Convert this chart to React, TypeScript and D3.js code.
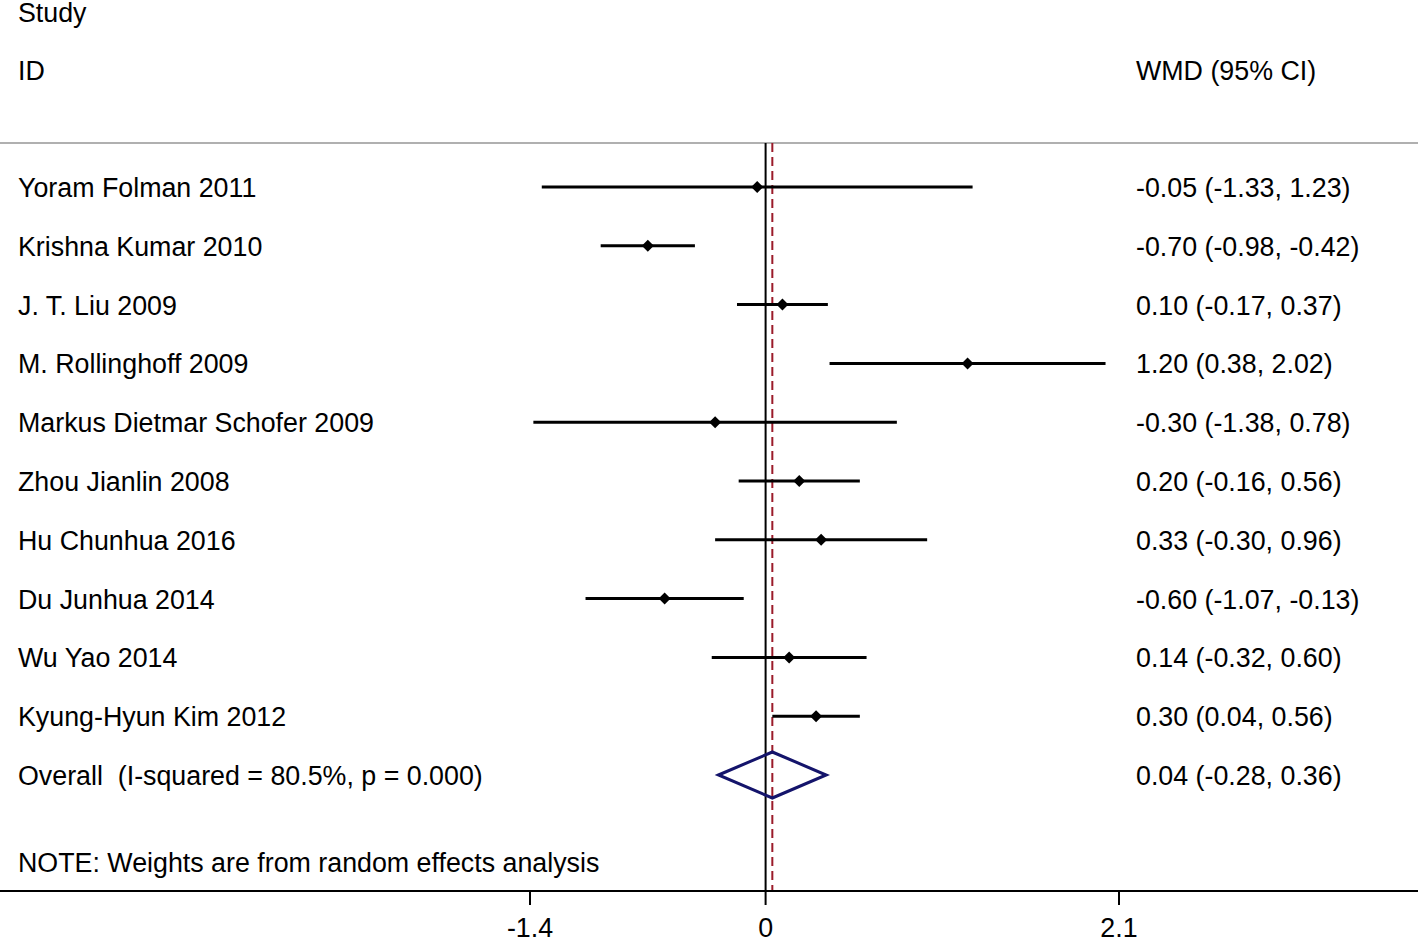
import React, { useEffect, useRef } from 'react';
import * as d3 from 'd3';

// Study data
const studies = [
  'Yoram Folman 2011',
  'Krishna Kumar 2010',
  'J. T. Liu 2009',
  'M. Rollinghoff 2009',
  'Markus Dietmar Schofer 2009',
  'Zhou Jianlin 2008',
  'Hu Chunhua 2016',
  'Du Junhua 2014',
  'Wu Yao 2014',
  'Kyung-Hyun Kim 2012',
];
const estimates = [-0.05, -0.7, 0.1, 1.2, -0.3, 0.2, 0.33, -0.6, 0.14, 0.3];
const lower = [-1.33, -0.98, -0.17, 0.38, -1.38, -0.16, -0.3, -1.07, -0.32, 0.04];
const upper = [1.23, -0.42, 0.37, 2.02, 0.78, 0.56, 0.96, -0.13, 0.6, 0.56];

const overallLabel = 'Overall  (I-squared = 80.5%, p = 0.000)';
const overall = { est: 0.04, lo: -0.28, hi: 0.36 };
const tickValues = [-1.4, 0, 2.1];

const fmt = (v: number) => v.toFixed(2);

const App = () => {
  const svgRef = useRef<SVGSVGElement>(null);

  useEffect(() => {
    const width = 1418;
    const height = 940;
    const font = 'Arial, "Liberation Sans", sans-serif';
    const fontSize = 26.8;

    const svg = d3.select(svgRef.current)
      .attr('width', width)
      .attr('height', height);
    svg.selectAll('*').remove();

    // x scale: -1.4 at 530, 2.1 at 1119
    const x = d3.scaleLinear().domain([-1.4, 2.1]).range([530, 1119]);

    const rows = [...studies, overallLabel];
    const y = d3.scalePoint<string>().domain(rows).range([187, 775]);

    const topY = 143;
    const axisY = 891;

    const txt = (t: string, xx: number, yy: number) =>
      svg.append('text')
        .attr('x', xx).attr('y', yy)
        .attr('font-family', font)
        .attr('font-size', fontSize)
        .attr('fill', '#000')
        .style('white-space', 'pre')
        .text(t);

    // header
    txt('Study', 18, 22);
    txt('ID', 18, 80);
    txt('WMD (95% CI)', 1136, 80);

    svg.append('line')
      .attr('x1', 0).attr('x2', width)
      .attr('y1', topY).attr('y2', topY)
      .attr('stroke', '#b0b0b0').attr('stroke-width', 2);

    // null line
    svg.append('line')
      .attr('x1', x(0)).attr('x2', x(0))
      .attr('y1', topY).attr('y2', axisY)
      .attr('stroke', '#000').attr('stroke-width', 2);

    // overall dashed line
    svg.append('line')
      .attr('x1', x(overall.est)).attr('x2', x(overall.est))
      .attr('y1', topY).attr('y2', axisY)
      .attr('stroke', '#9b1b2a').attr('stroke-width', 2)
      .attr('stroke-dasharray', '9,5');

    // study rows
    const g = svg.append('g');
    studies.forEach((s, i) => {
      const cy = y(s) as number;
      g.append('line')
        .attr('x1', x(lower[i])).attr('x2', x(upper[i]))
        .attr('y1', cy).attr('y2', cy)
        .attr('stroke', '#000').attr('stroke-width', 3);
      const cx = x(estimates[i]);
      const r = 6;
      g.append('path')
        .attr('d', `M${cx},${cy - r}L${cx + r},${cy}L${cx},${cy + r}L${cx - r},${cy}Z`)
        .attr('fill', '#000');
      txt(s, 18, cy + 10);
      txt(`${fmt(estimates[i])} (${fmt(lower[i])}, ${fmt(upper[i])})`, 1136, cy + 10);
    });

    // overall diamond
    const oy = y(overallLabel) as number;
    const dh = 23;
    svg.append('path')
      .attr('d', `M${x(overall.lo)},${oy}L${x(overall.est)},${oy - dh}L${x(overall.hi)},${oy}L${x(overall.est)},${oy + dh}Z`)
      .attr('fill', 'none')
      .attr('stroke', '#14146b')
      .attr('stroke-width', 3);
    txt(overallLabel, 18, oy + 10);
    txt(`${fmt(overall.est)} (${fmt(overall.lo)}, ${fmt(overall.hi)})`, 1136, oy + 10);

    txt('NOTE: Weights are from random effects analysis', 18, 872);

    // x axis
    svg.append('line')
      .attr('x1', 0).attr('x2', width)
      .attr('y1', axisY).attr('y2', axisY)
      .attr('stroke', '#000').attr('stroke-width', 2);

    const ax = svg.append('g');
    tickValues.forEach(t => {
      ax.append('line')
        .attr('x1', x(t)).attr('x2', x(t))
        .attr('y1', axisY).attr('y2', axisY + 14)
        .attr('stroke', '#000').attr('stroke-width', 2);
      ax.append('text')
        .attr('x', x(t)).attr('y', 937)
        .attr('text-anchor', 'middle')
        .attr('font-family', font)
        .attr('font-size', fontSize)
        .text(String(t));
    });
  }, []);

  return (
    <svg ref={svgRef} style={{ position: 'absolute', left: 0, top: 0, background: '#fff' }}></svg>
  );
};

export default App;
